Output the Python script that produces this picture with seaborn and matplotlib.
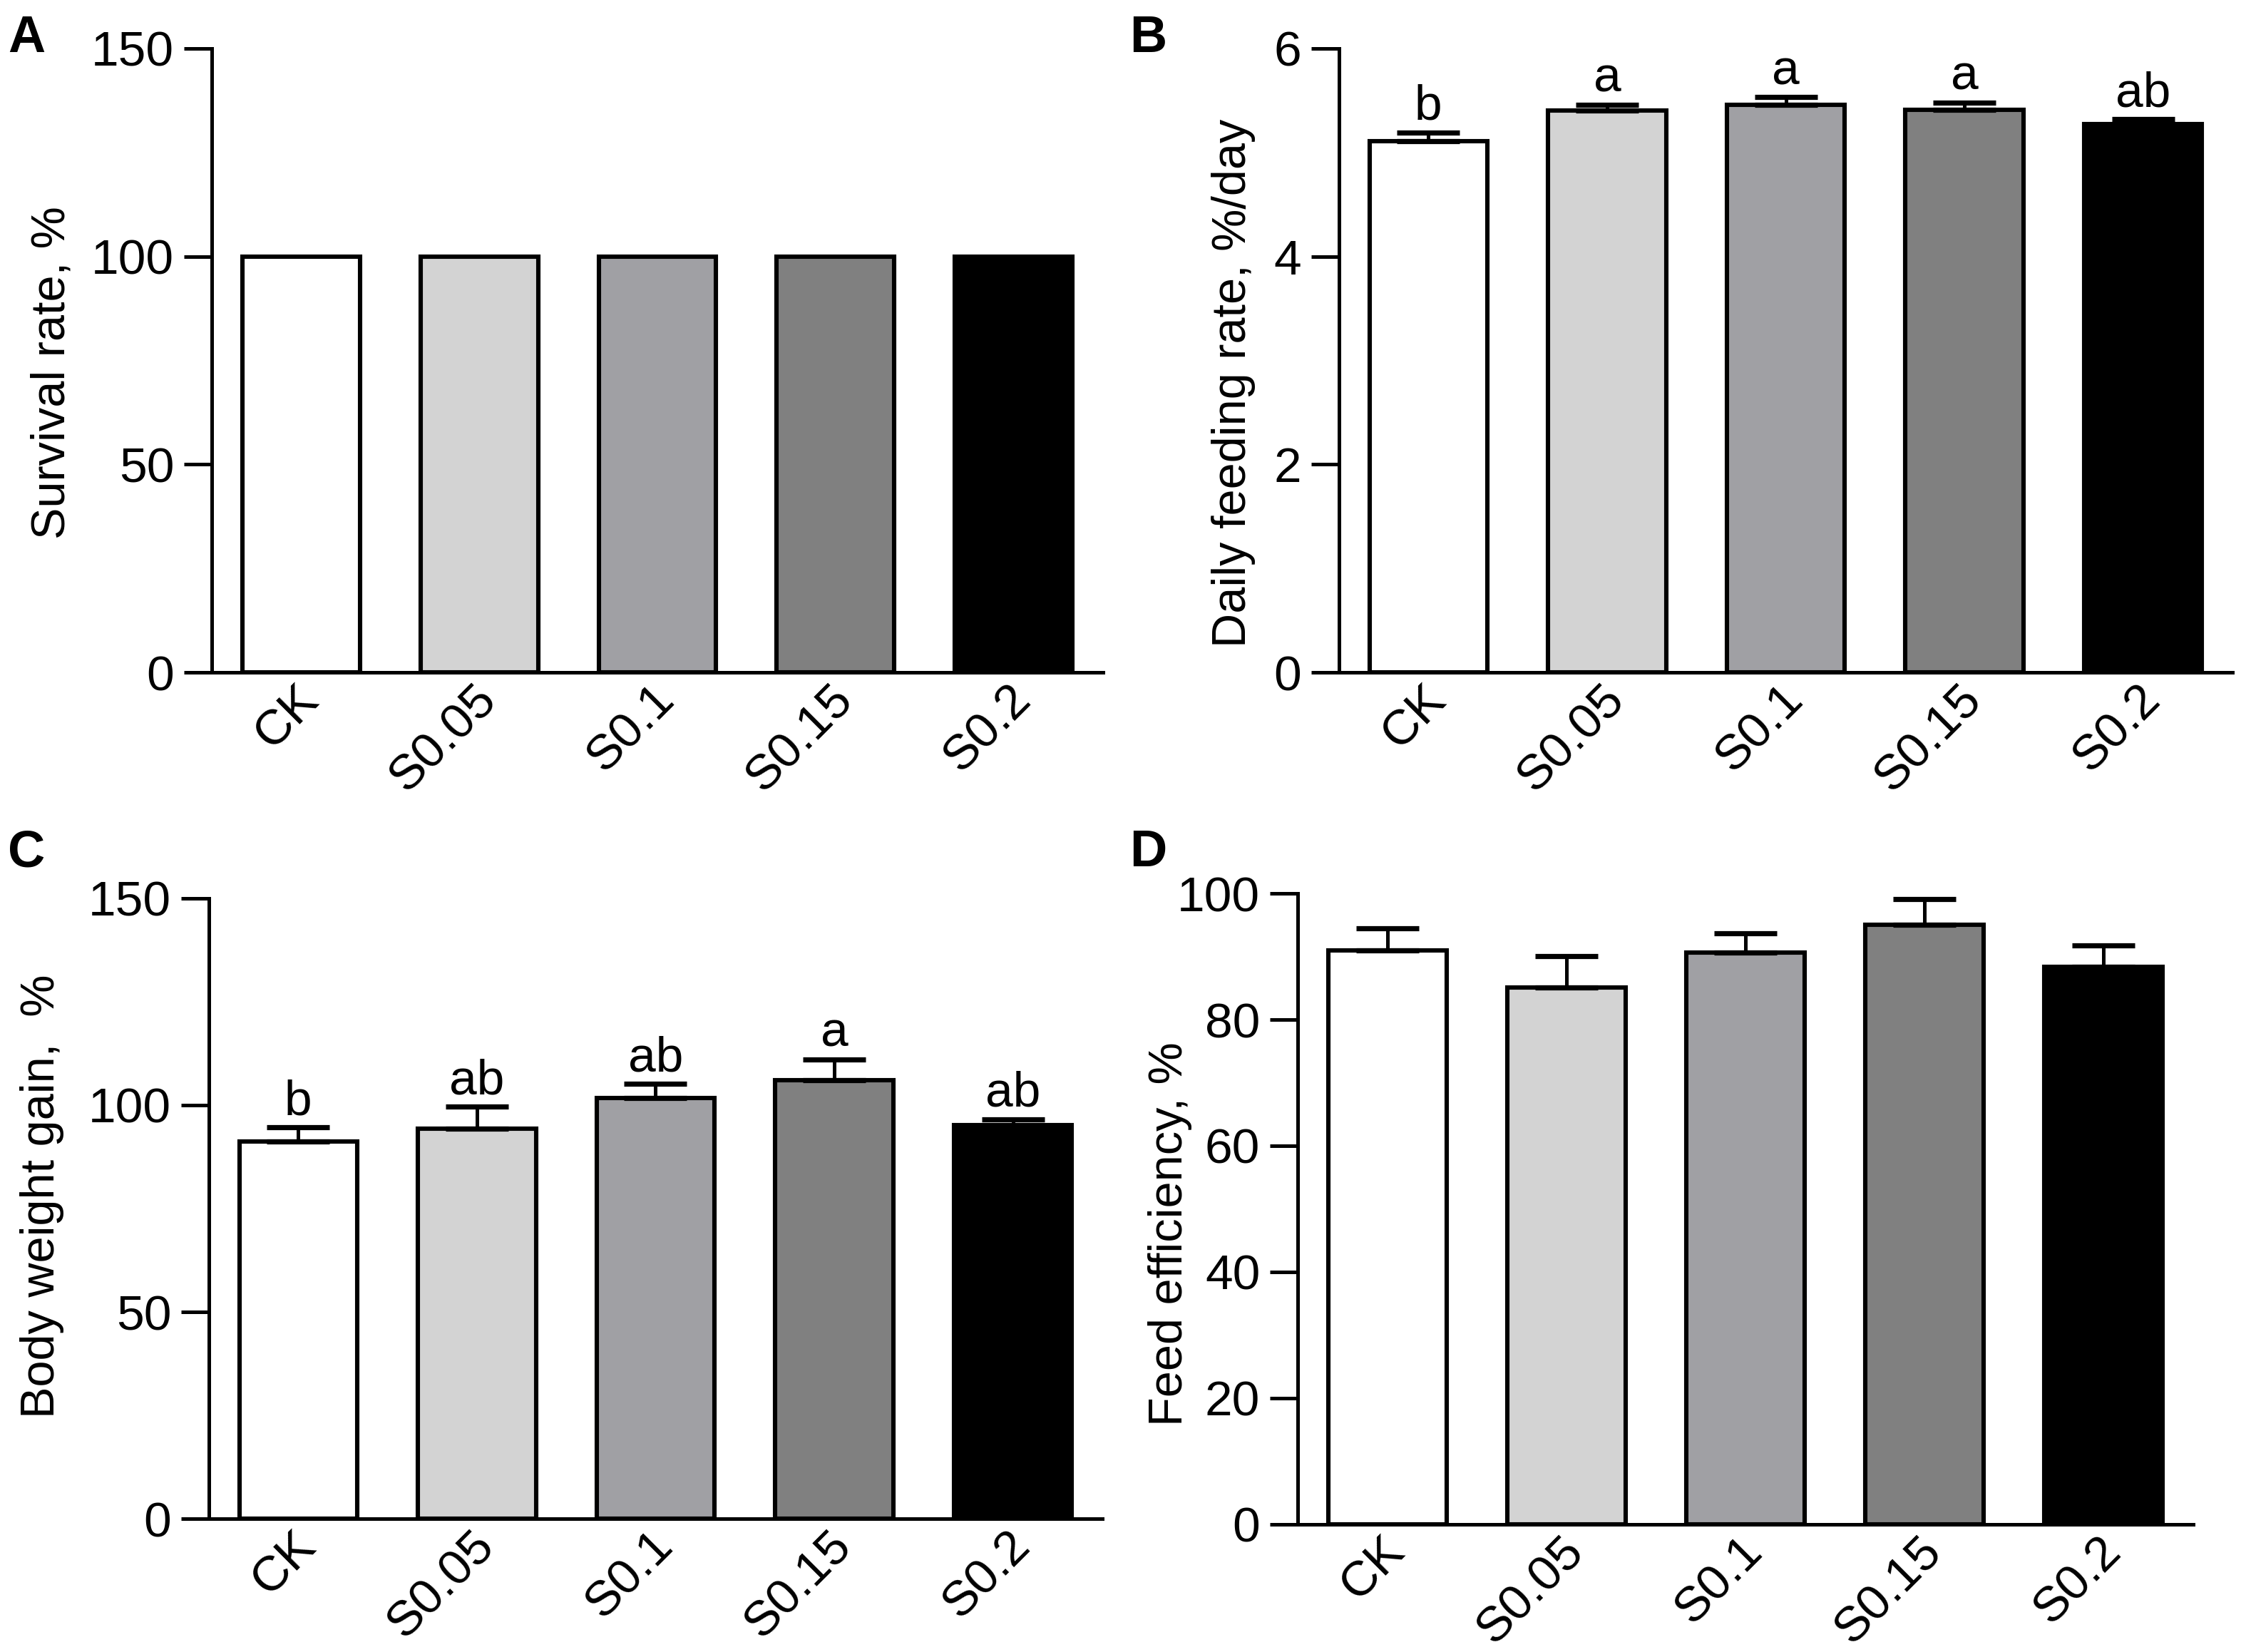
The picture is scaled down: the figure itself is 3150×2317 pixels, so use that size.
import numpy as np
import pandas as pd
import matplotlib
matplotlib.use("Agg")
import matplotlib.pyplot as plt
import matplotlib.transforms as mtransforms
import seaborn as sns

# ---------------- data ----------------
groups = ["CK", "S0.05", "S0.1", "S0.15", "S0.2"]
bar_colors = ["#ffffff", "#d3d3d3", "#a0a0a4", "#808080", "#000000"]

survival_mean = [100, 100, 100, 100, 100]

feeding_mean = [5.11, 5.40, 5.46, 5.41, 5.27]
feeding_sem = [0.08, 0.06, 0.07, 0.07, 0.05]
feeding_letters = ["b", "a", "a", "a", "ab"]

weight_mean = [91.2, 94.3, 101.8, 106.0, 95.2]
weight_sem = [3.4, 5.3, 3.3, 5.1, 1.4]
weight_letters = ["b", "ab", "ab", "a", "ab"]

eff_mean = [91.0, 85.1, 90.6, 95.0, 88.4]
eff_sem = [3.5, 5.0, 3.1, 4.1, 3.3]

# ---------------- style ----------------
sns.set_style("ticks")
plt.rcParams["font.family"] = ["Liberation Sans", "DejaVu Sans"]
plt.rcParams.update({
    "axes.linewidth": 1.8,
    "axes.edgecolor": "black",
    "text.color": "black",
    "axes.labelcolor": "black",
    "xtick.color": "black",
    "ytick.color": "black",
})

TICK_FS = 25
LAB_FS = 24
LET_FS = 25
fig = plt.figure(figsize=(15.75, 11.585), dpi=200)

panels = [
    dict(rect=[0.0943, 0.5930, 0.3968, 0.3777], mean=survival_mean, sem=None, letters=None,
         ylim=(0, 150), yticks=[0, 50, 100, 150], ylabel="Survival rate, %",
         lab=(-0.154, 0.48), tag="A", tagpos=(0.0035, 0.9685)),
    dict(rect=[0.5962, 0.5930, 0.3978, 0.3777], mean=feeding_mean, sem=feeding_sem, letters=feeding_letters,
         ylim=(0, 6), yticks=[0, 2, 4, 6], ylabel="Daily feeding rate, %/day",
         lab=(-0.093, 0.464), tag="B", tagpos=(0.503, 0.9685)),
    dict(rect=[0.0930, 0.0807, 0.3978, 0.3755], mean=weight_mean, sem=weight_sem, letters=weight_letters,
         ylim=(0, 150), yticks=[0, 50, 100, 150], ylabel="Body weight gain,  %",
         lab=(-0.162, 0.52), tag="C", tagpos=(0.0035, 0.4756)),
    dict(rect=[0.5778, 0.0773, 0.3987, 0.3819], mean=eff_mean, sem=eff_sem, letters=None,
         ylim=(0, 100), yticks=[0, 20, 40, 60, 80, 100], ylabel="Feed efficiency, %",
         lab=(-0.118, 0.46), tag="D", tagpos=(0.503, 0.4756)),
]

for p in panels:
    ax = fig.add_axes(p["rect"])
    df = pd.DataFrame({"group": groups, "value": p["mean"]})
    sns.barplot(data=df, x="group", y="value", hue="group", palette=bar_colors,
                legend=False, width=0.66, saturation=1, edgecolor="black",
                linewidth=2.2, errorbar=None, ax=ax)
    xs = np.arange(len(groups))
    if p["sem"] is not None:
        lower = np.zeros(len(groups))
        ax.errorbar(xs, p["mean"], yerr=[lower, p["sem"]], fmt="none",
                    ecolor="black", elinewidth=1.8, capsize=15.8, capthick=2.6,
                    zorder=5)
    if p["letters"] is not None:
        for i, (m, s, t) in enumerate(zip(p["mean"], p["sem"], p["letters"])):
            ax.annotate(t, xy=(xs[i], m + s), xytext=(0, 6.5), textcoords="offset points",
                        ha="center", va="baseline", fontsize=LET_FS)
    ax.set_xlim(-0.5, 4.5)
    ax.set_ylim(*p["ylim"])
    ax.set_yticks(p["yticks"])
    ax.set_xlabel("")
    ax.set_ylabel(p["ylabel"], fontsize=LAB_FS)
    ax.yaxis.set_label_coords(*p["lab"])
    sns.despine(ax=ax)
    ax.tick_params(axis="y", labelsize=TICK_FS, length=14, width=1.8, pad=5)
    ax.tick_params(axis="x", labelsize=TICK_FS, length=0, pad=2)
    offset = mtransforms.ScaledTranslation(-3.0 / 72, 0, fig.dpi_scale_trans)
    for lbl in ax.get_xticklabels():
        lbl.set_rotation(45)
        lbl.set_ha("right")
        lbl.set_rotation_mode("anchor")
        lbl.set_transform(lbl.get_transform() + offset)
    fig.text(p["tagpos"][0], p["tagpos"][1], p["tag"], fontsize=26, fontweight="bold",
             ha="left", va="baseline")

fig.savefig("out.png", dpi=200, facecolor="white")
